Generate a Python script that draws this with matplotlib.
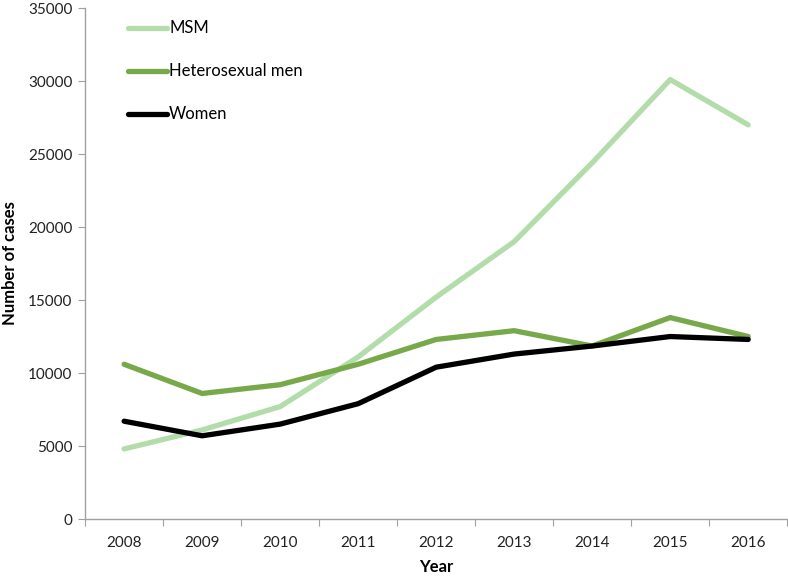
import matplotlib.pyplot as plt

# Data
years = ['2008', '2009', '2010', '2011', '2012', '2013', '2014', '2015', '2016']
msm = [4800, 6100, 7700, 11100, 15200, 19000, 24400, 30100, 27000]
hetero_men = [10600, 8600, 9200, 10600, 12300, 12900, 11850, 13800, 12500]
women = [6700, 5700, 6500, 7900, 10400, 11300, 11850, 12500, 12300]

plt.rcParams['font.family'] = ['Lato', 'DejaVu Sans']

fig = plt.figure(figsize=(7.88, 5.77), dpi=100)
ax = fig.add_axes([0.108, 0.1005, 0.891, 0.8855])

x = range(len(years))
ax.plot(x, msm, color='#b3dcab', lw=3.8, label='MSM', solid_capstyle='round')
ax.plot(x, hetero_men, color='#77a84a', lw=3.8, label='Heterosexual men', solid_capstyle='round')
ax.plot(x, women, color='black', lw=3.8, label='Women', solid_capstyle='round')

ax.set_xlim(-0.5, len(years) - 0.5)
ax.set_ylim(0, 35000)
ax.set_yticks(range(0, 35001, 5000))
# category axis: ticks between categories, labels centred on them
ax.set_xticks([i - 0.5 for i in range(len(years) + 1)], minor=False)
ax.set_xticklabels([])
ax.set_xticks(list(x), minor=True)
ax.set_xticklabels(years, minor=True)
ax.tick_params(axis='x', which='minor', length=0, pad=12, labelsize=11, labelcolor='#222222')
ax.tick_params(axis='x', which='major', length=5, color='#a0a0a0')
ax.tick_params(axis='y', length=5, color='#a0a0a0', labelsize=11, labelcolor='#222222', pad=4)

for s in ['top', 'right']:
    ax.spines[s].set_visible(False)
for s in ['left', 'bottom']:
    ax.spines[s].set_color('#a0a0a0')
    ax.spines[s].set_linewidth(1)

ax.set_xlabel('Year', fontsize=12, fontweight='bold', labelpad=7)
ax.set_ylabel('Number of cases', fontsize=12, fontweight='bold')
ax.yaxis.set_label_coords(-0.095, 0.5)

ax.legend(loc='upper left', bbox_to_anchor=(0.0613, 0.976), frameon=False, fontsize=12,
          handlelength=2.34, handletextpad=0.12, labelspacing=1.62, borderaxespad=0, borderpad=0)

plt.savefig('out.png', dpi=100)
